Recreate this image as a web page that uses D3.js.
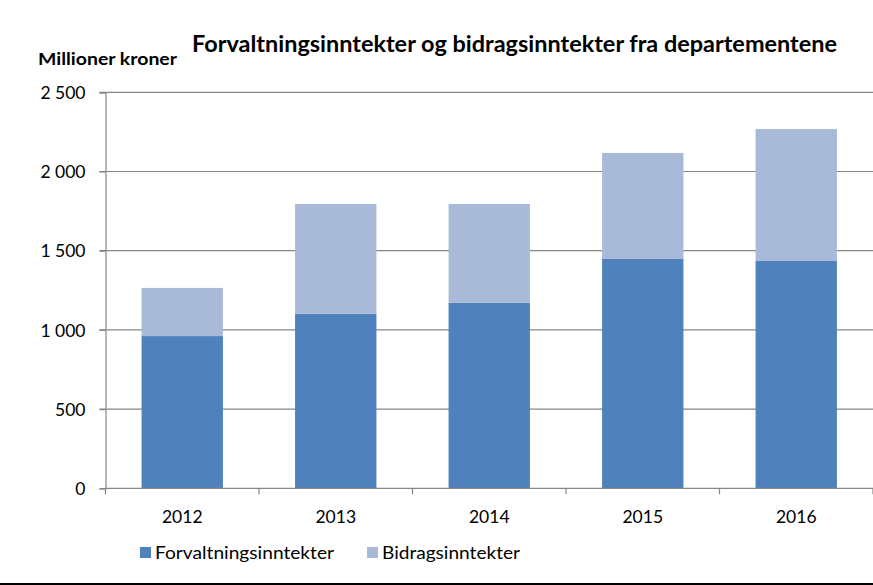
<!DOCTYPE html>
<html>
<head>
<meta charset="utf-8">
<script src="https://cdn.jsdelivr.net/npm/d3@7"></script>
<style>
  html, body { margin: 0; padding: 0; background: #fff; }
  svg { display: block; }
  text { font-family: Lato, "Open Sans", sans-serif; fill: #000; }
</style>
</head>
<body>
<svg id="chart" width="873" height="585"></svg>
<script>
const years = ["2012", "2013", "2014", "2015", "2016"];
const forvaltning = [961, 1102, 1172, 1448, 1435];
const bidrag = [304, 693, 623, 669, 833];
const seriesNames = ["Forvaltningsinntekter", "Bidragsinntekter"];
const seriesColors = ["#4F81BD", "#A9BAD8"];
const yTicks = [0, 500, 1000, 1500, 2000, 2500];
const yTickLabels = ["0", "500", "1 000", "1 500", "2 000", "2 500"];
const title = "Forvaltningsinntekter og bidragsinntekter fra departementene";
const yTitle = "Millioner kroner";

const svg = d3.select("#chart");
const W = 873, H = 585;
const plot = { left: 105.5, right: 873, top: 92.3, bottom: 488.3 };

const x = d3.scaleBand().domain(years).range([plot.left, plot.right]).paddingInner(0.47).paddingOuter(0.235);
const y = d3.scaleLinear().domain([0, 2500]).range([plot.bottom, plot.top]);

// gridlines
svg.append("g").selectAll("line").data(yTicks.filter(d => d > 0)).join("line")
  .attr("x1", plot.left - 6).attr("x2", plot.right)
  .attr("y1", d => y(d)).attr("y2", d => y(d))
  .attr("stroke", "#868686").attr("stroke-width", 1.2);

// stacked data
const rows = years.map((yr, i) => ({ year: yr, Forvaltningsinntekter: forvaltning[i], Bidragsinntekter: bidrag[i] }));
const stack = d3.stack().keys(seriesNames)(rows);

svg.append("g").selectAll("g").data(stack).join("g")
  .attr("fill", (d, i) => seriesColors[i])
  .selectAll("rect").data(d => d).join("rect")
  .attr("x", d => x(d.data.year))
  .attr("width", x.bandwidth())
  .attr("y", d => y(d[1]))
  .attr("height", d => y(d[0]) - y(d[1]));

// y axis
const yAxis = d3.axisLeft(y).tickValues(yTicks).tickSize(6).tickFormat((d, i) => yTickLabels[i]);
const gy = svg.append("g").attr("transform", `translate(${plot.left},0)`).call(yAxis);
gy.select(".domain").attr("stroke", "#868686").attr("stroke-width", 1.2);
gy.selectAll(".tick line").attr("stroke", "#868686").attr("stroke-width", 1.2);
gy.selectAll(".tick text").attr("x", -20).attr("dy", "0.35em")
  .style("font-size", "17.5px").style("font-family", "Lato, sans-serif").attr("fill", "#000");

// x axis
const xAxis = d3.axisBottom(x).tickSize(0).tickSizeOuter(0);
const gx = svg.append("g").attr("transform", `translate(0,${plot.bottom})`).call(xAxis);
gx.select(".domain").attr("stroke", "#868686").attr("stroke-width", 1.2)
  .attr("d", `M${plot.left},0H${plot.right}`);
gx.selectAll(".tick text").attr("y", 29).attr("dy", "0.35em")
  .style("font-size", "17.5px").style("font-family", "Lato, sans-serif").attr("fill", "#000");
// category separators
const step = x.step();
const seps = d3.range(years.length + 1).map(i => plot.left + i * step);
gx.append("g").selectAll("line").data(seps).join("line")
  .attr("x1", d => d).attr("x2", d => d).attr("y1", 0).attr("y2", 6)
  .attr("stroke", "#868686").attr("stroke-width", 1.2);

// title
svg.append("text").attr("x", 192).attr("y", 52)
  .attr("textLength", 645).attr("lengthAdjust", "spacingAndGlyphs")
  .style("font-size", "22px").style("font-weight", "bold").text(title);
svg.append("text").attr("x", 38).attr("y", 65)
  .attr("textLength", 139).attr("lengthAdjust", "spacingAndGlyphs")
  .style("font-size", "17px").style("font-weight", "bold").text(yTitle);

// legend
const legendItems = [
  { name: seriesNames[0], color: seriesColors[0], x: 140, w: 179 },
  { name: seriesNames[1], color: seriesColors[1], x: 367, w: 138 }
];
const lg = svg.append("g").selectAll("g").data(legendItems).join("g")
  .attr("transform", d => `translate(${d.x},0)`);
lg.append("rect").attr("x", 0).attr("y", 547).attr("width", 11).attr("height", 11).attr("fill", d => d.color);
lg.append("text").attr("x", 15).attr("y", 559)
  .attr("textLength", d => d.w).attr("lengthAdjust", "spacingAndGlyphs")
  .style("font-size", "17.5px").text(d => d.name);

// bottom border line
svg.append("line").attr("x1", 0).attr("x2", W).attr("y1", 584).attr("y2", 584)
  .attr("stroke", "#000").attr("stroke-width", 2);
</script>
</body>
</html>
